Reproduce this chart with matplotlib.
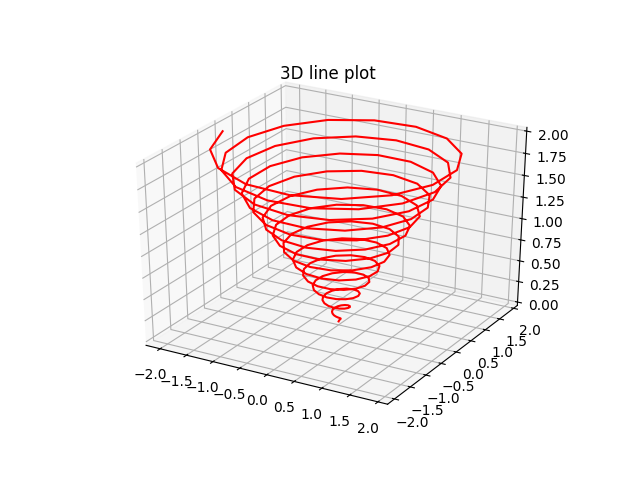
import matplotlib
matplotlib.use('Agg')
import matplotlib.pyplot as plt

# helix points
x_vals = [0, .004, .014, .028, .040, .046, .040, .023, -.006, -.042,
          -.077, -.106, -.120, -.114, -.086, -.038, .024, .090, .147, .187,
          .198, .176, .121, .041, -.054, -.147, -.224, -.269, -.272, -.230,
          -.146, -.032, .095, .214, .305, .351, .342, .275, .160, .011,
          -.146, -.288, -.390, -.432, -.406, -.311, -.162, .021, .208, .369,
          .477, .511, .462, .337, .151, -.066, -.280, -.457, -.565, -.586,
          -.511, -.351, -.129, .122, .361, .549, .653, .655, .551, .354,
          .094, -.189, -.449, -.644, -.740, -.719, -.580, -.344, -.046, .267,
          .545, .742, .824, .775, .599, .322, -.013, -.354, -.646, -.841,
          -.903, -.821, -.606, -.287, .085, .451, .753, .938, .977, .859,
          .600, .239, -.168, -.556, -.861, -1.034, -1.044, -.885, -.582, -.177,
          .262, .667, .973, 1.127, 1.102, .900, .549, .104, -.365, -.785,
          -1.084, -1.215, -1.151, -.902, -.504, -.018, .479, .906, 1.195, 1.296,
          1.190, .891, .444, -.080, -.601, -1.031, -1.304, -1.370, -1.218, -.866,
          -.371, .190, .729, 1.160, 1.410, 1.435, 1.233, .827, .284, -.311,
          -.865, -1.288, -1.509, -1.492, -1.234, -.774, -.185, .442, 1.005, 1.416,
          1.603, 1.536, 1.221, .706, .073, -.582, -1.149, -1.541, -1.688, -1.568,
          -1.193, -.624, .054, .729, 1.296, 1.662, 1.765, 1.587, 1.150, .525,
          -.190, -.884, -1.443, -1.778, -1.831, -1.590, -1.094, -.413, .338, 1.045,
          1.591, 1.887, 1.885, 1.581, 1.020, .288, -.496, -1.208, -1.735, -1.988]
y_vals = [0, .009, .014, .011, -.001, -.021, -.045, -.067, -.080, -.080,
          -.064, -.032, .013, .064, .112, .146, .159, .146, .105, .041,
          -.037, -.117, -.185, -.227, -.235, -.204, -.135, -.038, .073, .180,
          .264, .310, .307, .254, .154, .024, -.119, -.250, -.347, -.392,
          -.374, -.295, -.162, .003, .176, .328, .433, .472, .435, .326,
          .158, -.042, -.243, -.413, -.521, -.549, -.488, -.345, -.142, .093,
          .320, .502, .609, .621, .533, .354, .113, -.154, -.405, -.596,
          -.697, -.688, -.567, -.351, -.071, .227, .496, .693, .782, .748,
          .591, .335, .018, -.309, -.595, -.791, -.864, -.799, -.604, -.306,
          .048, .402, .699, .890, .941, .841, .604, .264, -.125, -.502,
          -.806, -.987, -1.012, -.874, -.593, -.210, .213, .611, .917, 1.081,
          1.074, .895, .567, .143, -.312, -.725, -1.028, -1.171, -1.128, -.903,
          -.528, -.063, .421, .845, 1.140, 1.256, 1.172, .899, .476, -.030,
          -.538, -.969, -1.250, -1.334, -1.205, -.881, -.410, .134, .664, 1.095,
          1.358, 1.404, 1.226, .849, .330, -.249, -.797, -1.223, -1.459, -1.465,
          -1.235, -.803, -.237, .375, .935, 1.352, 1.557, 1.515, 1.229, .742,
          .130, -.510, -1.078, -1.478, -1.647, -1.552, -1.209, -.666, -.011, .654,
          1.223, 1.602, 1.728, 1.579, 1.174, .577, -.120, -.806, -1.370, -1.720,
          -1.798, -1.590, -1.123, -.473, .263, .963, 1.518, 1.833, 1.859, 1.588,
          1.058, .353, -.415, -1.125, -1.663, -1.938, -1.907, -1.568, -.977, -.220]
z_vals = [0, .010, .020, .030, .040, .050, .060, .070, .080, .090,
          .101, .111, .121, .131, .141, .151, .161, .171, .181, .191,
          .201, .211, .221, .231, .241, .251, .261, .271, .281, .291,
          .302, .312, .322, .332, .342, .352, .362, .372, .382, .392,
          .402, .412, .422, .432, .442, .452, .462, .472, .482, .492,
          .503, .513, .523, .533, .543, .553, .563, .573, .583, .593,
          .603, .613, .623, .633, .643, .653, .663, .673, .683, .693,
          .704, .714, .724, .734, .744, .754, .764, .774, .784, .794,
          .804, .814, .824, .834, .844, .854, .864, .874, .884, .894,
          .905, .915, .925, .935, .945, .955, .965, .975, .985, .995,
          1.005, 1.015, 1.025, 1.035, 1.045, 1.055, 1.065, 1.075, 1.085, 1.095,
          1.106, 1.116, 1.126, 1.136, 1.146, 1.156, 1.166, 1.176, 1.186, 1.196,
          1.206, 1.216, 1.226, 1.236, 1.246, 1.256, 1.266, 1.276, 1.286, 1.296,
          1.307, 1.317, 1.327, 1.337, 1.347, 1.357, 1.367, 1.377, 1.387, 1.397,
          1.407, 1.417, 1.427, 1.437, 1.447, 1.457, 1.467, 1.477, 1.487, 1.497,
          1.508, 1.518, 1.528, 1.538, 1.548, 1.558, 1.568, 1.578, 1.588, 1.598,
          1.608, 1.618, 1.628, 1.638, 1.648, 1.658, 1.668, 1.678, 1.688, 1.698,
          1.709, 1.719, 1.729, 1.739, 1.749, 1.759, 1.769, 1.779, 1.789, 1.799,
          1.809, 1.819, 1.829, 1.839, 1.849, 1.859, 1.869, 1.879, 1.889, 1.899,
          1.910, 1.920, 1.930, 1.940, 1.950, 1.960, 1.970, 1.980, 1.990, 2.000]

fig = plt.figure(figsize=(6.4, 4.8), dpi=100)
ax = fig.add_subplot(projection='3d')
ax.plot3D(x_vals, y_vals, z_vals, 'red')
ax.set_title('3D line plot', y=1.0)


# the reference box fills the whole axes rectangle instead of a square
def fill_rect(position=None):
    ax._set_position(ax.get_position(original=True), 'active')


ax.apply_aspect = fill_rect
ax.set_box_aspect((1, 1, 1), zoom=0.945)

fig.savefig('out.png', dpi=100)
